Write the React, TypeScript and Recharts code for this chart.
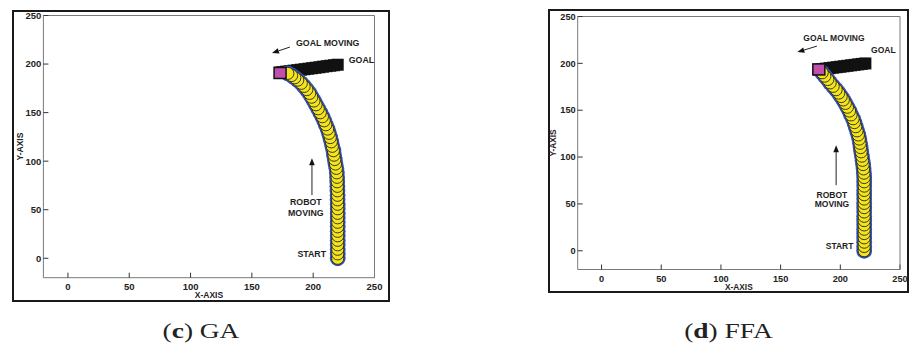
import React from 'react';
import { ScatterChart, Scatter, XAxis, YAxis, ReferenceLine, ReferenceDot } from 'recharts';

const SANS = '"Liberation Sans", Arial, sans-serif';
const SERIF = '"Liberation Serif", "Times New Roman", serif';

const axisTicks = [0, 50, 100, 150, 200, 250];
const axisDomain: [number, number] = [-20, 250];

// (c) GA - robot positions, start -> goal
const gaRobotX = [220, 220, 220, 220, 220, 220, 220, 220, 220, 220, 220, 220, 220, 219.9, 219.9, 219.8, 219.7, 219.6, 219.5, 219.3,
  218.9, 218.2, 217.6, 217.0, 216.5, 215.6, 214.8, 213.9, 212.9, 211.8, 210.3, 209.0, 207.5, 205.8, 204.1, 202.3,
  200.6, 198.8, 197.1, 194.8, 192.6, 190.3, 187.4, 185.0, 182.4, 179.3];
const gaRobotY = [0, 4.6, 9.3, 13.9, 18.5, 23.2, 27.8, 32.4, 37.1, 41.7, 46.3, 51, 55.6, 60.2, 64.9, 69.5, 74.1, 78.8, 83.4, 88,
  92.6, 97.1, 101.7, 106.2, 110.8, 115.3, 119.9, 124.3, 128.7, 133.1, 137.5, 141.6, 145.8, 149.9, 154, 158.1,
  162, 165.9, 169.8, 173.7, 177, 180.2, 183.5, 185.9, 188.2, 190.4];
// moving goal positions
const gaGoalX = [220, 217, 214, 211, 208, 205, 202, 199, 196, 193, 190, 187, 184, 181, 178, 175, 173];
const gaGoalY = [199.3, 198.8, 198.3, 197.8, 197.3, 196.7, 196.2, 195.7, 195.2, 194.7, 194.2, 193.7, 193.2, 192.7, 192.2, 191.6, 191.3];
const gaGoalFinal = { x: 173, y: 190.8 };

// (d) FFA
const ffaRobotX = [220, 220, 220, 220, 220, 220, 220, 220, 220, 220, 220, 220, 220, 220, 220, 220, 220, 220, 219.8, 219.5,
  219.1, 218.6, 218.1, 217.5, 217.0, 216.5, 215.9, 215.1, 214.0, 212.9, 211.8, 210.7, 209.0, 207.7, 205.9, 204.2,
  202.5, 200.7, 198.7, 196.5, 194.0, 191.5, 189.5, 187.0, 184.8];
const ffaRobotY = [0, 4.6, 9.2, 13.8, 18.4, 23, 27.6, 32.2, 36.8, 41.4, 46, 50.6, 55.2, 59.8, 64.4, 69, 73.6, 78.2, 82.8, 87.4,
  92, 96.5, 101, 105.6, 110.1, 114.7, 119.2, 123.6, 128, 132.4, 136.8, 140.9, 145, 149.1, 153.2, 157.3,
  161, 164.6, 168.3, 171.9, 175.5, 179.2, 182.8, 186.4, 190];
const ffaGoalX = [221, 218, 215, 212, 209, 206, 203, 200, 197, 194, 191, 188, 185, 182];
const ffaGoalY = [199.9, 199.4, 198.9, 198.4, 197.9, 197.4, 196.9, 196.4, 195.9, 195.4, 194.9, 194.4, 193.9, 193.4];
const ffaGoalFinal = { x: 182, y: 193.5 };

type Pt = { x: number; y: number };
const zip = (xs: number[], ys: number[]): Pt[] => xs.map((x, i) => ({ x, y: ys[i] }));

interface Notes {
  goalMoving: Pt; goalArrow: [Pt, Pt]; goal: Pt;
  robot: Pt; moving: Pt; robotArrow: [Pt, Pt]; start: Pt;
}

const gaNotes: Notes = {
  goalMoving: { x: 186, y: 222 }, goalArrow: [{ x: 181, y: 217.5 }, { x: 166.4, y: 211.3 }],
  goal: { x: 229, y: 204.5 },
  robot: { x: 194, y: 57.5 }, moving: { x: 194, y: 46.9 },
  robotArrow: [{ x: 199, y: 65 }, { x: 199, y: 103 }],
  start: { x: 210.5, y: 4 },
};
const ffaNotes: Notes = {
  goalMoving: { x: 169, y: 227 }, goalArrow: [{ x: 180.4, y: 218.4 }, { x: 164, y: 212 }],
  goal: { x: 225.8, y: 214.5 },
  robot: { x: 193, y: 59.5 }, moving: { x: 193, y: 50 },
  robotArrow: [{ x: 196.5, y: 70 }, { x: 196.5, y: 112.7 }],
  start: { x: 211, y: 5 },
};

const Arrow = (p: any) => {
  const { x1, y1, x2, y2 } = p;
  const a = Math.atan2(y2 - y1, x2 - x1);
  const L = 7, W = 2.8;
  const bx = x2 - L * Math.cos(a), by = y2 - L * Math.sin(a);
  const pts = `${x2},${y2} ${bx - W * Math.sin(a)},${by + W * Math.cos(a)} ${bx + W * Math.sin(a)},${by - W * Math.cos(a)}`;
  return (
    <g>
      <line x1={x1} y1={y1} x2={bx} y2={by} stroke="#222" strokeWidth={1} />
      <polygon points={pts} fill="#111" />
    </g>
  );
};

const note = (label: string, anchor: 'start' | 'middle' | 'end', size: number) => (p: any) => (
  <text x={p.cx} y={p.cy} textAnchor={anchor} dominantBaseline="central" fontSize={size}
    fontWeight={700} fill="#1e1e1e" fontFamily={SANS}>{label}</text>
);

interface PanelProps {
  robot: Pt[]; goalTrack: Pt[]; goal: Pt; notes: Notes;
  width: number; height: number;
  margin: { top: number; right: number; bottom: number; left: number };
  tickFont: number; noteFont: number; titleFont: number;
  xTitleOffset: number; yTitleOffset: number;
}

// axes are 1px thick so they still render; margins are reduced by that 1px
function Panel(props: PanelProps) {
  const { robot, goalTrack, goal, notes, width, height, margin, tickFont, noteFont, titleFont } = props;
  const tick = { fontSize: tickFont, fontWeight: 700, fill: '#222', fontFamily: SANS };
  const boxLine = { stroke: '#7a7a7a', strokeWidth: 1 };
  const tickLine = { stroke: '#333', strokeWidth: 1 };
  const titleStyle = { fontSize: titleFont, fontWeight: 700, fill: '#222', fontFamily: SANS, textAnchor: 'middle' as const };
  const m = { top: margin.top - 1, right: margin.right - 1, bottom: margin.bottom - 1, left: margin.left - 1 };
  return (
    <ScatterChart width={width} height={height} margin={m}>
      <XAxis type="number" dataKey="x" domain={axisDomain} ticks={axisTicks} interval={0} allowDataOverflow
        height={1} tickSize={-5} tickMargin={10.5} axisLine={boxLine} tickLine={tickLine} tick={tick}
        label={{ value: 'X-AXIS', position: 'bottom', offset: props.xTitleOffset - 1, style: titleStyle }} />
      <XAxis xAxisId="t" orientation="top" type="number" dataKey="x" domain={axisDomain} ticks={axisTicks}
        interval={0} allowDataOverflow height={1} tickSize={-5} axisLine={boxLine} tickLine={tickLine} tick={false} />
      <YAxis type="number" dataKey="y" domain={axisDomain} ticks={axisTicks} interval={0} allowDataOverflow
        width={1} tickSize={-5} tickMargin={7} axisLine={boxLine} tickLine={tickLine} tick={tick}
        label={{ value: 'Y-AXIS', position: 'left', angle: -90, offset: props.yTitleOffset - 1, style: titleStyle }} />
      <YAxis yAxisId="r" orientation="right" type="number" dataKey="y" domain={axisDomain} ticks={axisTicks}
        interval={0} allowDataOverflow width={1} tickSize={-5} axisLine={boxLine} tickLine={tickLine} tick={false} />

      <Scatter data={goalTrack} isAnimationActive={false}
        shape={(p: any) => <rect x={p.cx - 6} y={p.cy - 6} width={12} height={12} fill="#111" />} />
      <Scatter data={robot} isAnimationActive={false}
        shape={(p: any) => <circle cx={p.cx} cy={p.cy} r={7.9} fill="#3550b4" />} />
      <Scatter data={robot} isAnimationActive={false}
        shape={(p: any) => <circle cx={p.cx} cy={p.cy} r={6.1} fill="#f4e41c" stroke="#262626" strokeWidth={0.9} />} />
      <Scatter data={[goal]} isAnimationActive={false}
        shape={(p: any) => <rect x={p.cx - 6} y={p.cy - 5.5} width={12} height={11} fill="#c24ead" stroke="#111" strokeWidth={1.5} />} />

      <ReferenceLine segment={notes.goalArrow} shape={Arrow} />
      <ReferenceLine segment={notes.robotArrow} shape={Arrow} />
      <ReferenceDot x={notes.goalMoving.x} y={notes.goalMoving.y} r={0} shape={note('GOAL MOVING', 'start', noteFont)} />
      <ReferenceDot x={notes.goal.x} y={notes.goal.y} r={0} shape={note('GOAL', 'start', noteFont)} />
      <ReferenceDot x={notes.robot.x} y={notes.robot.y} r={0} shape={note('ROBOT', 'middle', noteFont)} />
      <ReferenceDot x={notes.moving.x} y={notes.moving.y} r={0} shape={note('MOVING', 'middle', noteFont)} />
      <ReferenceDot x={notes.start.x} y={notes.start.y} r={0} shape={note('START', 'end', noteFont)} />
    </ScatterChart>
  );
}

export default function App() {
  const frame = { position: 'absolute' as const, boxSizing: 'border-box' as const, border: '2px solid #1a1a1a' };
  return (
    <div style={{ position: 'absolute', left: 0, top: 0, width: 909, height: 352, background: '#fff', overflow: 'hidden' }}>
      <div style={{ ...frame, left: 12, top: 10, width: 378, height: 292 }} />
      <div style={{ ...frame, left: 548, top: 9, width: 361, height: 284 }} />

      <div style={{ position: 'absolute', left: 0, top: 0 }}>
        <Panel robot={zip(gaRobotX, gaRobotY)} goalTrack={zip(gaGoalX, gaGoalY)} goal={gaGoalFinal} notes={gaNotes}
          width={400} height={310} margin={{ top: 15.5, right: 25.5, bottom: 32.3, left: 43.4 }}
          tickFont={9.5} noteFont={8.8} titleFont={8.5} xTitleOffset={14.2} yTitleOffset={23.4} />
      </div>
      <div style={{ position: 'absolute', left: 540, top: 0 }}>
        <Panel robot={zip(ffaRobotX, ffaRobotY)} goalTrack={zip(ffaGoalX, ffaGoalY)} goal={ffaGoalFinal} notes={ffaNotes}
          width={369} height={300} margin={{ top: 16.5, right: 9, bottom: 30.5, left: 37.7 }}
          tickFont={9.2} noteFont={8.5} titleFont={8.3} xTitleOffset={14.5} yTitleOffset={25} />
      </div>

      <svg width={909} height={352} style={{ position: 'absolute', left: 0, top: 0, pointerEvents: 'none' }}>
        <text transform="translate(201,337.7) scale(1.37,1)" textAnchor="middle" fontFamily={SERIF} fontSize={20} fill="#222">
          (<tspan fontWeight={700}>c</tspan>) GA
        </text>
        <text transform="translate(728.5,337.7) scale(1.37,1)" textAnchor="middle" fontFamily={SERIF} fontSize={20} fill="#222">
          (<tspan fontWeight={700}>d</tspan>) FFA
        </text>
      </svg>
    </div>
  );
}
